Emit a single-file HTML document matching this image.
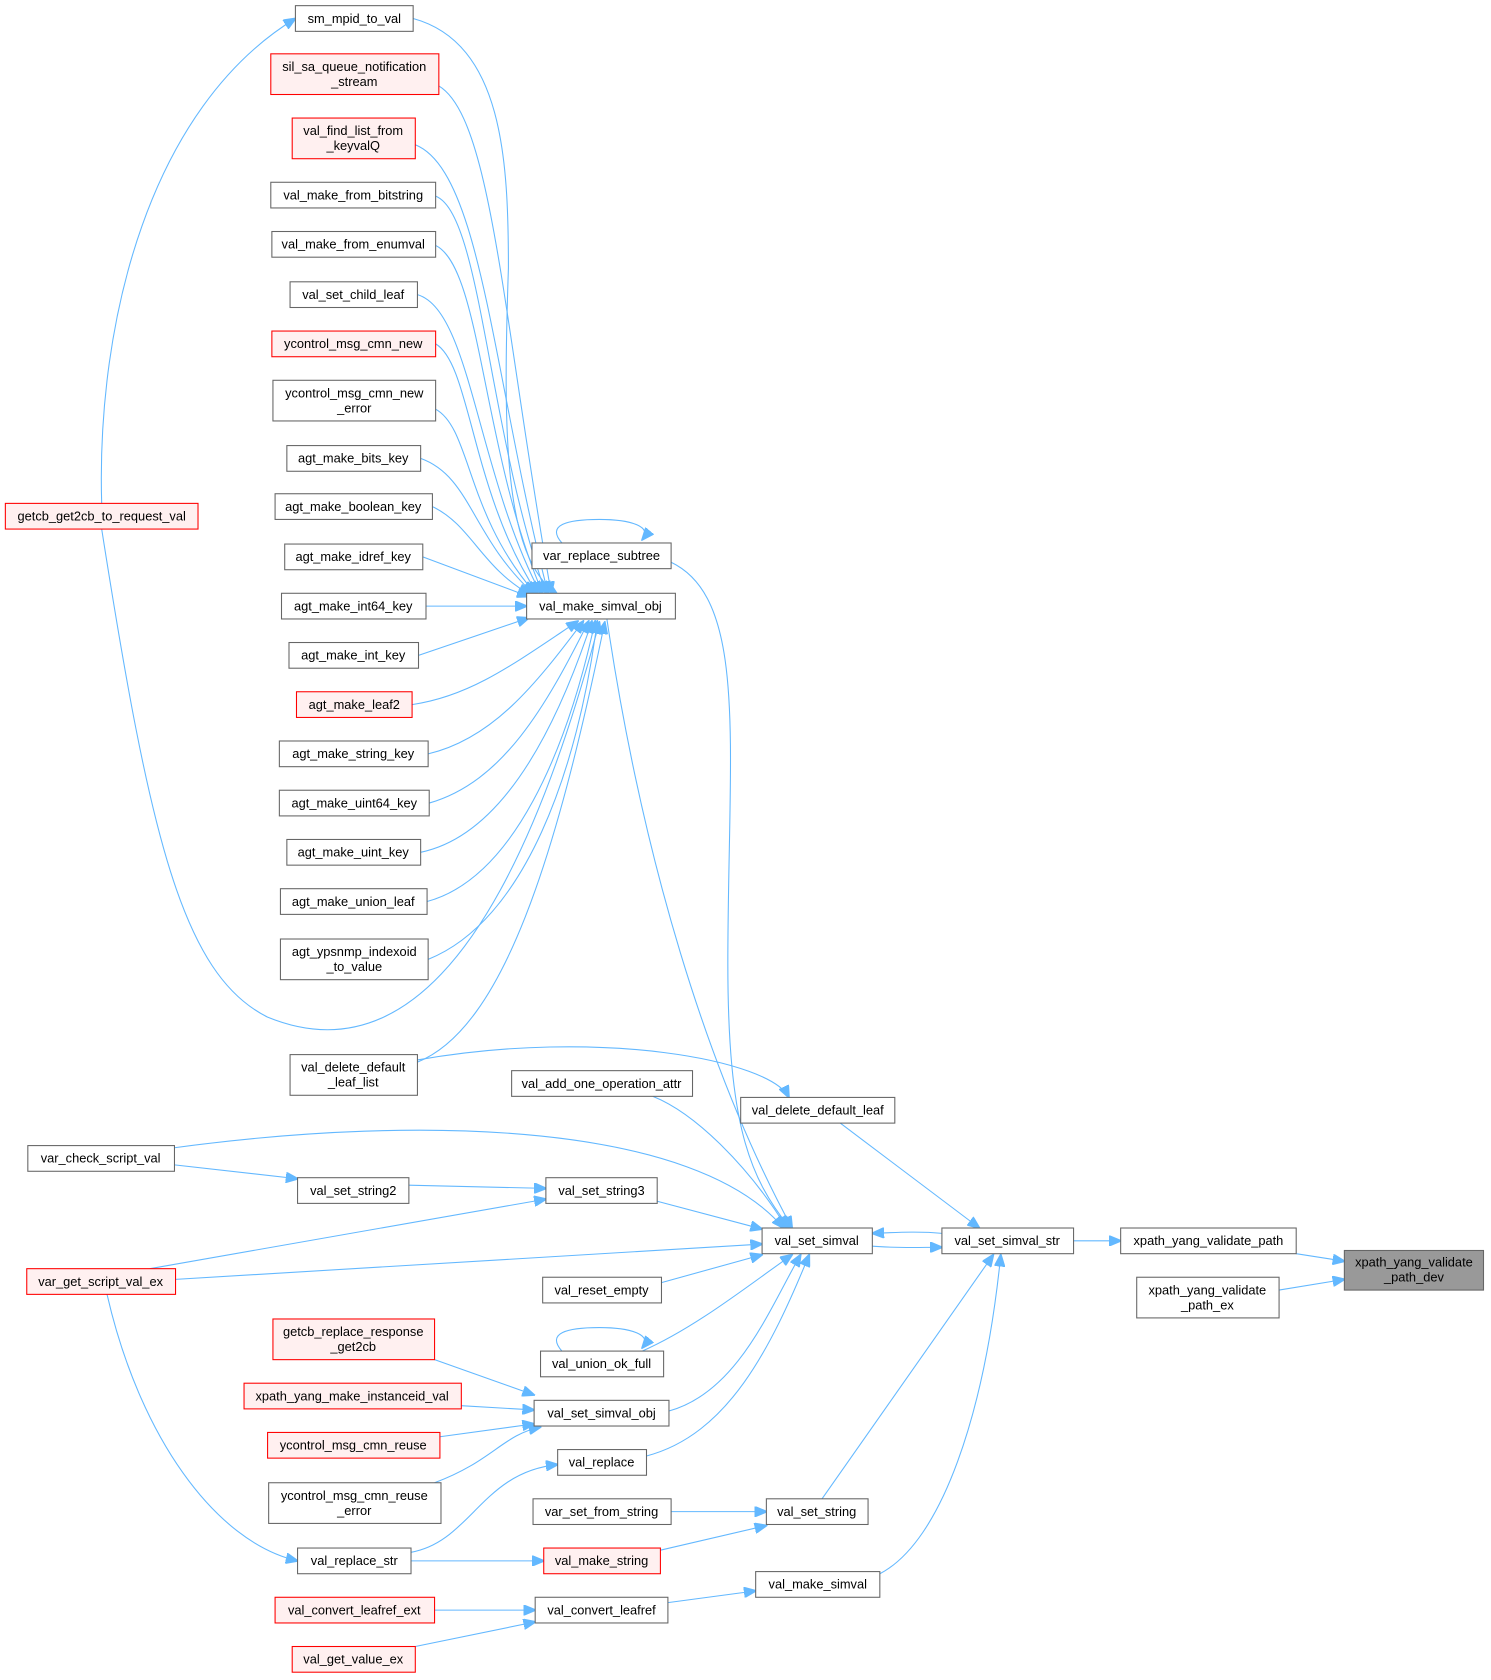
<!DOCTYPE html>
<html><head><meta charset="utf-8"><style>
html,body{margin:0;padding:0;background:#fff}
svg{display:block}
text{font-family:"Liberation Sans",Arial,sans-serif;font-size:12px;fill:#000}
.n{fill:#fff;stroke:#666;stroke-width:1}
.r{fill:#fff0f0;stroke:#f00;stroke-width:1}
.g{fill:#999;stroke:#666;stroke-width:1}
.e{fill:none;stroke:#63b8ff;stroke-width:1}
</style></head><body>
<svg width="1491" height="1680" viewBox="0 0 1393 1569" xmlns="http://www.w3.org/2000/svg">
<defs><marker id="a" markerWidth="12" markerHeight="10" refX="11" refY="5" orient="auto" markerUnits="userSpaceOnUse"><path d="M0,0 L12,5 L0,10 z" fill="#63b8ff" stroke="#63b8ff"/></marker></defs>
<g marker-end="url(#a)" class="e">
<path class="e" d="M1211,1171 L1256,1178"/>
<path class="e" d="M1195,1205 L1256,1195"/>
<path class="e" d="M1003,1159 L1047,1159"/>
<path class="e" d="M815,1164 C840,1166 860,1165 880,1165"/>
<path class="e" d="M880,1152 C860,1150 840,1151 815,1152"/>
<path class="e" d="M785,1049 L915,1147"/>
<path class="e" d="M768,1400 L928,1172"/>
<path class="e" d="M822,1470 C880,1440 920,1320 935,1172"/>
<path class="e" d="M567,578 C600,800 660,1000 740,1147"/>
<path class="e" d="M627,525 C700,560 680,700 680,900 C680,1050 700,1100 738,1147"/>
<path class="e" d="M610,1024 C650,1040 700,1090 735,1147"/>
<path class="e" d="M163,1072 C400,1040 650,1050 732,1147"/>
<path class="e" d="M614,1122 L712,1148"/>
<path class="e" d="M164,1195 L712,1162"/>
<path class="e" d="M618,1198 L712,1172"/>
<path class="e" d="M600,1262 C650,1240 700,1200 740,1172"/>
<path class="e" d="M625,1318 C690,1300 720,1220 748,1172"/>
<path class="e" d="M604,1360 C680,1340 720,1260 756,1172"/>
<path class="e" d="M382,1107 L510,1110"/>
<path class="e" d="M140,1185 L510,1120"/>
<path class="e" d="M163,1088 L278,1101"/>
<path class="e" d="M100,1209 C130,1340 200,1440 278,1458"/>
<path class="e" d="M406,1270 L499,1303"/>
<path class="e" d="M431,1313 L499,1317"/>
<path class="e" d="M411,1342 L499,1330"/>
<path class="e" d="M406,1385 C460,1365 470,1340 505,1333"/>
<path class="e" d="M384,1450 C440,1440 450,1375 521,1368"/>
<path class="e" d="M627,1412 L716,1412"/>
<path class="e" d="M617,1448 L716,1425"/>
<path class="e" d="M384,1458 L508,1458"/>
<path class="e" d="M624,1497 L706,1486"/>
<path class="e" d="M406,1504 L500,1504"/>
<path class="e" d="M388,1538 L500,1515"/>
<path class="e" d="M95,470 C90,300 140,100 276,17"/>
<path class="e" d="M390,990 C560,960 720,990 737,1025"/>
<path class="e" d="M95,494 C140,780 170,910 250,950 C360,995 470,920 560,581"/>
<path class="e" d="M390,992 C470,960 520,800 565,581"/>
<path class="e" d="M525,507 C510,490 530,485 560,485 C590,485 610,492 600,504"/>
<path class="e" d="M525,1262 C510,1245 530,1240 560,1240 C590,1240 610,1247 600,1259"/>
<path class="e" d="M386,17 C470,40 475,150 475,250 C470,400 470,520 520,554"/>
<path class="e" d="M410,80 C460,110 470,300 515,554"/>
<path class="e" d="M388,135 C450,160 460,350 512,554"/>
<path class="e" d="M407,183 C450,200 455,400 510,554"/>
<path class="e" d="M407,229 C450,250 450,420 507,554"/>
<path class="e" d="M390,275 C440,290 445,440 505,554"/>
<path class="e" d="M407,321 C440,340 440,460 502,554"/>
<path class="e" d="M407,382 C440,400 435,480 500,554"/>
<path class="e" d="M393,428 C440,445 440,500 498,554"/>
<path class="e" d="M404,473 C440,490 450,530 495,555"/>
<path class="e" d="M395,520 L494,557"/>
<path class="e" d="M398,566 L492,566"/>
<path class="e" d="M391,612 L494,577"/>
<path class="e" d="M385,658 C440,650 480,620 540,580"/>
<path class="e" d="M400,704 C460,690 500,640 545,580"/>
<path class="e" d="M401,750 C470,730 510,660 550,580"/>
<path class="e" d="M393,796 C470,780 520,680 553,580"/>
<path class="e" d="M399,842 C480,820 530,700 556,580"/>
<path class="e" d="M400,896 C490,860 540,720 558,580"/>
</g>
<rect class="g" x="1256" y="1168" width="130" height="37"/><text x="1321" y="1183" text-anchor="middle">xpath_yang_validate</text><text x="1321" y="1197" text-anchor="middle">_path_dev</text>
<rect class="n" x="1047" y="1147" width="164" height="24"/><text x="1129" y="1163" text-anchor="middle">xpath_yang_validate_path</text>
<rect class="n" x="1062" y="1193" width="133" height="38"/><text x="1128" y="1209" text-anchor="middle">xpath_yang_validate</text><text x="1128" y="1223" text-anchor="middle">_path_ex</text>
<rect class="n" x="880" y="1147" width="123" height="24"/><text x="941" y="1163" text-anchor="middle">val_set_simval_str</text>
<rect class="n" x="712" y="1147" width="103" height="24"/><text x="763" y="1163" text-anchor="middle">val_set_simval</text>
<rect class="n" x="692" y="1025" width="144" height="24"/><text x="764" y="1041" text-anchor="middle">val_delete_default_leaf</text>
<rect class="n" x="497" y="507" width="130" height="24"/><text x="562" y="523" text-anchor="middle">var_replace_subtree</text>
<rect class="n" x="492" y="554" width="139" height="24"/><text x="561" y="570" text-anchor="middle">val_make_simval_obj</text>
<rect class="n" x="478" y="1000" width="169" height="24"/><text x="562" y="1016" text-anchor="middle">val_add_one_operation_attr</text>
<rect class="n" x="510" y="1100" width="104" height="24"/><text x="562" y="1116" text-anchor="middle">val_set_string3</text>
<rect class="n" x="507" y="1193" width="111" height="24"/><text x="562" y="1209" text-anchor="middle">val_reset_empty</text>
<rect class="n" x="505" y="1262" width="115" height="24"/><text x="562" y="1278" text-anchor="middle">val_union_ok_full</text>
<rect class="n" x="499" y="1308" width="126" height="24"/><text x="562" y="1324" text-anchor="middle">val_set_simval_obj</text>
<rect class="n" x="521" y="1354" width="83" height="24"/><text x="562" y="1370" text-anchor="middle">val_replace</text>
<rect class="n" x="716" y="1400" width="95" height="24"/><text x="763" y="1416" text-anchor="middle">val_set_string</text>
<rect class="n" x="498" y="1400" width="129" height="24"/><text x="562" y="1416" text-anchor="middle">var_set_from_string</text>
<rect class="r" x="508" y="1446" width="109" height="24"/><text x="562" y="1462" text-anchor="middle">val_make_string</text>
<rect class="n" x="706" y="1468" width="116" height="24"/><text x="764" y="1484" text-anchor="middle">val_make_simval</text>
<rect class="n" x="500" y="1492" width="124" height="24"/><text x="562" y="1508" text-anchor="middle">val_convert_leafref</text>
<rect class="r" x="257" y="1492" width="149" height="24"/><text x="331" y="1508" text-anchor="middle">val_convert_leafref_ext</text>
<rect class="r" x="273" y="1538" width="115" height="24"/><text x="330" y="1554" text-anchor="middle">val_get_value_ex</text>
<rect class="n" x="278" y="1446" width="106" height="24"/><text x="331" y="1462" text-anchor="middle">val_replace_str</text>
<rect class="n" x="251" y="1385" width="161" height="38"/><text x="331" y="1401" text-anchor="middle">ycontrol_msg_cmn_reuse</text><text x="331" y="1415" text-anchor="middle">_error</text>
<rect class="r" x="250" y="1338" width="161" height="24"/><text x="330" y="1354" text-anchor="middle">ycontrol_msg_cmn_reuse</text>
<rect class="r" x="228" y="1292" width="203" height="24"/><text x="329" y="1308" text-anchor="middle">xpath_yang_make_instanceid_val</text>
<rect class="r" x="255" y="1232" width="151" height="38"/><text x="330" y="1248" text-anchor="middle">getcb_replace_response</text><text x="330" y="1262" text-anchor="middle">_get2cb</text>
<rect class="r" x="25" y="1185" width="139" height="24"/><text x="94" y="1201" text-anchor="middle">var_get_script_val_ex</text>
<rect class="n" x="278" y="1100" width="104" height="24"/><text x="330" y="1116" text-anchor="middle">val_set_string2</text>
<rect class="n" x="26" y="1070" width="137" height="24"/><text x="94" y="1086" text-anchor="middle">var_check_script_val</text>
<rect class="n" x="271" y="985" width="119" height="38"/><text x="330" y="1001" text-anchor="middle">val_delete_default</text><text x="330" y="1015" text-anchor="middle">_leaf_list</text>
<rect class="r" x="5" y="470" width="180" height="24"/><text x="95" y="486" text-anchor="middle">getcb_get2cb_to_request_val</text>
<rect class="n" x="276" y="5" width="110" height="24"/><text x="331" y="21" text-anchor="middle">sm_mpid_to_val</text>
<rect class="r" x="253" y="50" width="157" height="38"/><text x="331" y="66" text-anchor="middle">sil_sa_queue_notification</text><text x="331" y="80" text-anchor="middle">_stream</text>
<rect class="r" x="273" y="110" width="115" height="38"/><text x="330" y="126" text-anchor="middle">val_find_list_from</text><text x="330" y="140" text-anchor="middle">_keyvalQ</text>
<rect class="n" x="253" y="170" width="154" height="24"/><text x="330" y="186" text-anchor="middle">val_make_from_bitstring</text>
<rect class="n" x="254" y="216" width="153" height="24"/><text x="330" y="232" text-anchor="middle">val_make_from_enumval</text>
<rect class="n" x="271" y="263" width="119" height="24"/><text x="330" y="279" text-anchor="middle">val_set_child_leaf</text>
<rect class="r" x="254" y="309" width="153" height="24"/><text x="330" y="325" text-anchor="middle">ycontrol_msg_cmn_new</text>
<rect class="n" x="255" y="355" width="152" height="38"/><text x="331" y="371" text-anchor="middle">ycontrol_msg_cmn_new</text><text x="331" y="385" text-anchor="middle">_error</text>
<rect class="n" x="268" y="416" width="125" height="24"/><text x="330" y="432" text-anchor="middle">agt_make_bits_key</text>
<rect class="n" x="257" y="461" width="147" height="24"/><text x="330" y="477" text-anchor="middle">agt_make_boolean_key</text>
<rect class="n" x="266" y="508" width="129" height="24"/><text x="330" y="524" text-anchor="middle">agt_make_idref_key</text>
<rect class="n" x="263" y="554" width="135" height="24"/><text x="330" y="570" text-anchor="middle">agt_make_int64_key</text>
<rect class="n" x="270" y="600" width="121" height="24"/><text x="330" y="616" text-anchor="middle">agt_make_int_key</text>
<rect class="r" x="277" y="646" width="108" height="24"/><text x="331" y="662" text-anchor="middle">agt_make_leaf2</text>
<rect class="n" x="261" y="692" width="139" height="24"/><text x="330" y="708" text-anchor="middle">agt_make_string_key</text>
<rect class="n" x="261" y="738" width="140" height="24"/><text x="331" y="754" text-anchor="middle">agt_make_uint64_key</text>
<rect class="n" x="268" y="784" width="125" height="24"/><text x="330" y="800" text-anchor="middle">agt_make_uint_key</text>
<rect class="n" x="262" y="830" width="137" height="24"/><text x="330" y="846" text-anchor="middle">agt_make_union_leaf</text>
<rect class="n" x="262" y="877" width="138" height="38"/><text x="331" y="893" text-anchor="middle">agt_ypsnmp_indexoid</text><text x="331" y="907" text-anchor="middle">_to_value</text>
</svg>
</body></html>
